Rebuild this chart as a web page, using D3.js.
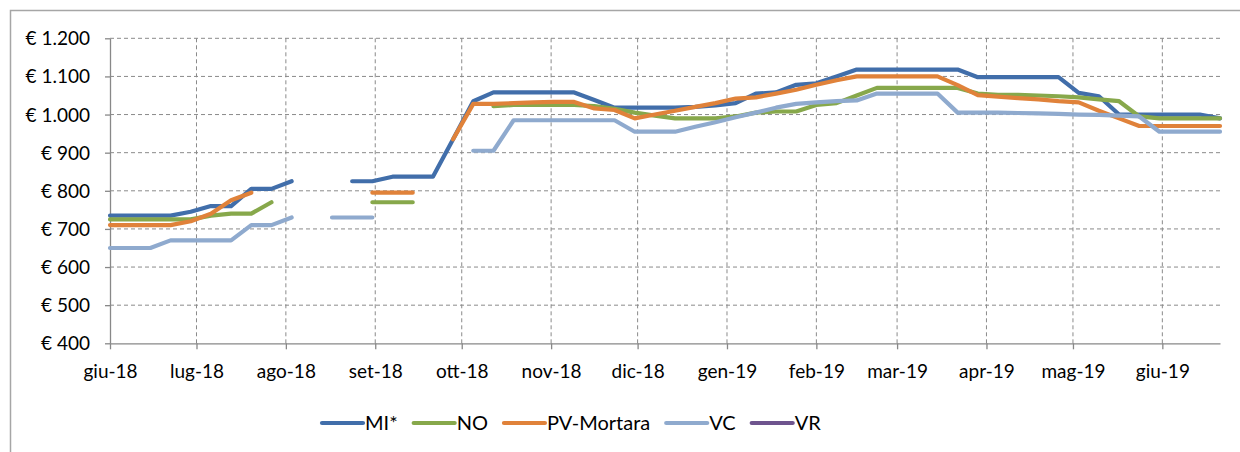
<!DOCTYPE html>
<html>
<head>
<meta charset="utf-8">
<script src="https://cdn.jsdelivr.net/npm/d3@7"></script>
<style>
  body { margin: 0; background: #fff; }
  text { font-family: Lato, "Open Sans", sans-serif; fill: #000; }
</style>
</head>
<body>
<svg id="chart" width="1240" height="452"></svg>
<script>
// weekly quotes, €/t
const dates = [
  "2018-06-01","2018-06-08","2018-06-15","2018-06-22","2018-06-29","2018-07-06","2018-07-13","2018-07-20",
  "2018-07-27","2018-08-03","2018-08-10","2018-08-17","2018-08-24","2018-08-31","2018-09-07","2018-09-14",
  "2018-09-21","2018-09-28","2018-10-05","2018-10-12","2018-10-19","2018-10-26","2018-11-02","2018-11-09",
  "2018-11-16","2018-11-23","2018-11-30","2018-12-07","2018-12-14","2018-12-21","2018-12-28","2019-01-04",
  "2019-01-11","2019-01-18","2019-01-25","2019-02-01","2019-02-08","2019-02-15","2019-02-22","2019-03-01",
  "2019-03-08","2019-03-15","2019-03-22","2019-03-29","2019-04-05","2019-04-12","2019-04-19","2019-04-26",
  "2019-05-03","2019-05-10","2019-05-17","2019-05-24","2019-05-31","2019-06-07","2019-06-14","2019-06-21"
];

const MI = [735,735,735,735,745,760,760,805, 805,825,null,null,825,825,837,837,
  837,935,1035,1058,1058,1058,1058,1058, 1038,1018,1018,1018,1018,1020,1024,1030,
  1055,1058,1078,1082,1100,1118,1118,1118, 1118,1118,1118,1098,1098,1098,1098,1098,
  1057,1048,1000,1000,1000,1000,1000,990];

const NO = [725,725,725,725,725,735,740,740, 770,null,null,null,null,770,770,770,
  null,null,null,1022,1025,1025,1025,1025, 1022,1015,1005,997,990,990,990,995,
  1005,1008,1008,1025,1030,1050,1070,1070, 1070,1070,1070,1055,1052,1052,1050,1048,
  1045,1040,1035,995,990,990,990,990];

const PV = [710,710,710,710,720,740,775,795, null,null,null,null,null,795,795,795,
  null,935,1028,1028,1030,1032,1033,1033, 1016,1012,990,1000,1010,1020,1030,1042,
  1045,1055,1065,1078,1090,1100,1100,1100, 1100,1100,1077,1051,1047,1043,1040,1035,
  1032,1010,990,970,970,970,970,970];

const VC = [650,650,650,670,670,670,670,710, 710,730,null,730,730,730,null,null,
  null,null,905,905,985,985,985,985, 985,985,955,955,955,968,980,993,
  1005,1018,1028,1032,1035,1037,1055,1055, 1055,1055,1005,1005,1005,1004,1003,1002,
  1000,999,997,995,955,955,955,955];

const VR = [];

const seriesNames = ["MI*", "NO", "PV-Mortara", "VC", "VR"];
const seriesValues = [MI, NO, PV, VC, VR];
const seriesColors = ["#416eaa", "#87a84b", "#e0823a", "#8faace", "#6e548e"];

const monthTicks = ["2018-06-01","2018-07-01","2018-08-01","2018-09-01","2018-10-01","2018-11-01","2018-12-01",
  "2019-01-01","2019-02-01","2019-03-01","2019-04-01","2019-05-01","2019-06-01"];
const monthLabels = ["giu-18","lug-18","ago-18","set-18","ott-18","nov-18","dic-18",
  "gen-19","feb-19","mar-19","apr-19","mag-19","giu-19"];
const yTicks = [400,500,600,700,800,900,1000,1100,1200];

const parse = d3.timeParse("%Y-%m-%d");
const days = dates.map(parse);
const months = monthTicks.map(parse);

const svg = d3.select("#chart");
const plotL = 110, plotR = 1220, plotT = 38.3, plotB = 343.3;

svg.append("rect").attr("width", 1240).attr("height", 452).attr("fill", "#fff");
svg.append("rect")
  .attr("x", 10.5).attr("y", 10.5).attr("width", 1240).attr("height", 450)
  .attr("fill", "none").attr("stroke", "#a6a6a6").attr("stroke-width", 1.5);

const x = d3.scaleTime().domain([days[0], days[days.length - 1]]).range([plotL, plotR]);
const y = d3.scaleLinear().domain([400, 1200]).range([plotB, plotT]);

const euro = d3.formatLocale({decimal: ",", thousands: ".", grouping: [3], currency: ["€ ", ""]}).format("$,");

// grid
const grid = svg.append("g").attr("stroke", "#8a8a8a").attr("stroke-width", 1).attr("stroke-dasharray", "4,3");
grid.selectAll(".hg").data(yTicks.slice(1)).enter().append("line")
  .attr("x1", plotL).attr("x2", plotR)
  .attr("y1", d => y(d)).attr("y2", d => y(d));
grid.selectAll(".vg").data(months.slice(1)).enter().append("line")
  .attr("x1", d => x(d)).attr("x2", d => x(d))
  .attr("y1", plotT).attr("y2", plotB);

// axes
const yAxis = svg.append("g").attr("transform", `translate(${plotL},0)`)
  .call(d3.axisLeft(y).tickValues(yTicks).tickFormat(euro).tickSize(5).tickSizeOuter(0).tickPadding(15));
const xAxis = svg.append("g").attr("transform", `translate(0,${plotB})`)
  .call(d3.axisBottom(x).tickValues(months).tickFormat((d, i) => monthLabels[i]).tickSize(6).tickSizeOuter(0));

[yAxis, xAxis].forEach(a => {
  a.select(".domain").attr("stroke", "#888").attr("stroke-width", 1.3);
  a.selectAll(".tick line").attr("stroke", "#888").attr("stroke-width", 1.3);
  a.selectAll("text").attr("font-size", 19).attr("fill", "#000").style("font-family", "Lato");
});
yAxis.selectAll("text").attr("dy", "0.34em");
xAxis.selectAll("text").attr("y", 28).attr("dy", "0.34em");

// lines
const line = d3.line()
  .defined(d => d.v != null)
  .x(d => x(d.t))
  .y(d => y(d.v));

seriesValues.forEach((vals, i) => {
  const pts = vals.map((v, j) => ({t: days[j], v: v}));
  svg.append("path")
    .datum(pts)
    .attr("fill", "none")
    .attr("stroke", seriesColors[i])
    .attr("stroke-width", 4.2)
    .attr("stroke-linejoin", "round")
    .attr("stroke-linecap", "round")
    .attr("d", line);
});

// legend
const legend = svg.append("g").attr("transform", "translate(322,423)");
let lx = 0;
seriesNames.forEach((name, i) => {
  const g = legend.append("g").attr("transform", `translate(${lx},0)`);
  g.append("line").attr("x1", 0).attr("x2", 41).attr("y1", 0).attr("y2", 0)
    .attr("stroke", seriesColors[i]).attr("stroke-width", 4.2).attr("stroke-linecap", "round");
  const t = g.append("text").attr("x", 43).attr("dy", "0.35em").attr("font-size", 20).text(name);
  lx += 43 + t.node().getComputedTextLength() + 16;
});
</script>
</body>
</html>
